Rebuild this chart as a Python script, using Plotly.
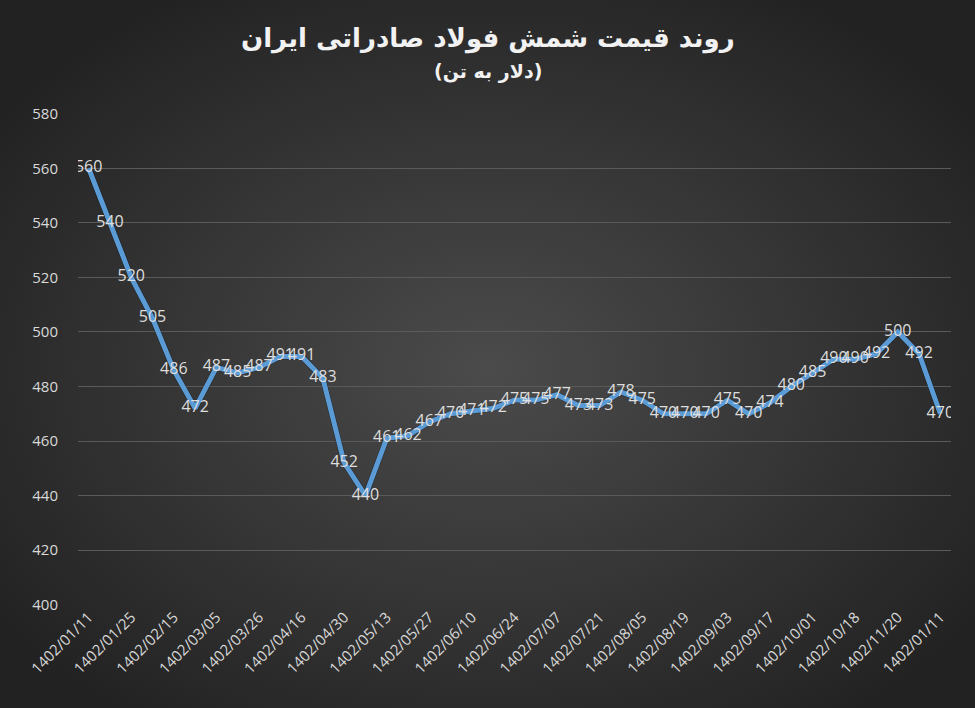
import base64
import plotly.graph_objects as go

# ---- data ----
values = [560, 540, 520, 505, 486, 472, 487, 485, 487, 491, 491, 483, 452, 440,
          461, 462, 467, 470, 471, 472, 475, 475, 477, 473, 473, 478, 475, 470,
          470, 470, 475, 470, 474, 480, 485, 490, 490, 492, 500, 492, 470]
tick_labels = ["1402/01/11", "1402/01/25", "1402/02/15", "1402/03/05", "1402/03/26",
               "1402/04/16", "1402/04/30", "1402/05/13", "1402/05/27", "1402/06/10",
               "1402/06/24", "1402/07/07", "1402/07/21", "1402/08/05", "1402/08/19",
               "1402/09/03", "1402/09/17", "1402/10/01", "1402/10/18", "1402/11/20",
               "1402/01/11"]
y_ticks = [400, 420, 440, 460, 480, 500, 520, 540, 560, 580]
title_text = "روند قیمت شمش فولاد صادراتی ایران"
subtitle_text = "(دلار به تن)"

x_idx = list(range(len(values)))
tick_pos = list(range(0, len(values), 2))

W, H = 975, 708
svg = f'''<svg xmlns="http://www.w3.org/2000/svg" width="{W}" height="{H}" viewBox="0 0 {W} {H}" preserveAspectRatio="none">
<defs><radialGradient id="g" cx="50%" cy="52%" r="62%">
<stop offset="0%" stop-color="#4b4b4b"/><stop offset="100%" stop-color="#222222"/>
</radialGradient></defs>
<rect width="{W}" height="{H}" fill="url(#g)"/></svg>'''
bg_src = "data:image/svg+xml;base64," + base64.b64encode(svg.encode()).decode()

x_dom = [75 / W, 948 / W]
y_dom = [(H - 601.7) / H, (H - 110.7) / H]
sh = 3  # shadow pixel offset
tick_font = dict(family="Open Sans, sans-serif", size=15, color="#d9d9d9")

fig = go.Figure()
# shadow line (base axes, drawn first / below)
fig.add_trace(go.Scatter(
    x=x_idx, y=values, mode="lines", xaxis="x", yaxis="y",
    line=dict(color="rgba(0,0,0,0.4)", width=6), hoverinfo="skip", showlegend=False))
# main line (overlay axes, drawn on top)
fig.add_trace(go.Scatter(
    x=x_idx, y=values, mode="lines+text", text=[str(v) for v in values],
    xaxis="x2", yaxis="y2", textposition="middle center",
    textfont=dict(family="Open Sans, sans-serif", size=16, color="#dedede"),
    line=dict(color="#5b9bd5", width=5), showlegend=False))

fig.update_layout(
    width=W, height=H,
    margin=dict(l=0, r=0, t=0, b=0),
    paper_bgcolor="#2e2e2e", plot_bgcolor="rgba(0,0,0,0)",
    images=[dict(source=bg_src, xref="paper", yref="paper", x=0, y=1, sizex=1, sizey=1,
                 xanchor="left", yanchor="top", sizing="stretch", layer="below")],
    xaxis=dict(domain=[x_dom[0] + sh / W, x_dom[1] + sh / W], range=[-0.5, len(values) - 0.5],
               visible=False, anchor="y"),
    yaxis=dict(domain=[y_dom[0] - sh / H, y_dom[1] - sh / H], range=[400, 580],
               visible=False, anchor="x"),
    xaxis2=dict(domain=x_dom, range=[-0.5, len(values) - 0.5], tickvals=tick_pos,
                ticktext=tick_labels, tickangle=-45, showgrid=False, zeroline=False,
                showline=False, ticks="", automargin=False, anchor="y2", side="bottom",
                overlaying="x", tickfont=tick_font),
    yaxis2=dict(domain=y_dom, range=[400, 580], tickvals=y_ticks, showgrid=True,
                gridcolor="#5a5a5a", gridwidth=1, zeroline=False, showline=False,
                ticks="", automargin=False, ticklabelstandoff=19, anchor="x2", side="left",
                overlaying="y", tickfont=tick_font),
    annotations=[
        dict(text="<b>" + title_text + "</b>", x=0.5, y=1 - 38 / H, xref="paper", yref="paper",
             showarrow=False, xanchor="center", yanchor="middle",
             font=dict(family="DejaVu Sans, sans-serif", size=26, color="#f2f2f2")),
        dict(text="<b>" + subtitle_text + "</b>", x=0.5, y=1 - 72 / H, xref="paper", yref="paper",
             showarrow=False, xanchor="center", yanchor="middle",
             font=dict(family="DejaVu Sans, sans-serif", size=19, color="#f2f2f2")),
    ],
)

fig.write_html("out.html", config={"displayModeBar": False},
               post_script="document.body.style.margin='0';")
